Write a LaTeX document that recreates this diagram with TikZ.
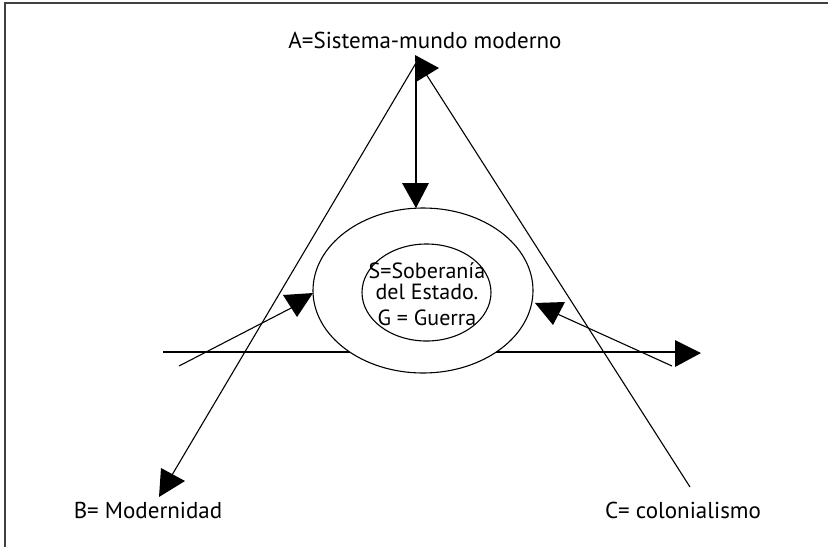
\documentclass[tikz,border=0pt]{standalone}
\usepackage{fontspec}
\setmainfont{PT Sans}
\usetikzlibrary{shapes.geometric, positioning}
\tikzset{node distance = 2cm}

\begin{document}
\begin{tikzpicture}[x=1pt, y=-1pt, line width=1.1pt,
  lbl/.style={font=\fontsize{23}{27}\selectfont, anchor=base, inner sep=0pt},
  head/.style={fill=black, draw=none},
  frame/.style={draw=black!75, line width=1.6pt}]
    \useasboundingbox (0,0) rectangle (828,547);
    \draw[frame] (5,547) -- (5,3) -- (828,3);

    % corners of the triangle
    \coordinate (apexL) at (416,63);
    \coordinate (apexR) at (419,63);
    \coordinate (tipB) at (172,475);
    \coordinate (endC) at (690,487);

    \node[lbl] (sistema) at (425,48) {A=Sistema-mundo moderno};
    \node[lbl] (modernidad) at (148,518) {B= Modernidad};
    \node[lbl] (colonialismo) at (683,518) {C= colonialismo};

    % horizontal axis behind the ellipse
    \coordinate (axisL) at (163,352);
    \coordinate (axisR) at (690,352);
    \draw (axisL) -- (axisR);
    \fill[head] (675,340) -- (701,353) -- (675,367) -- cycle;

    \draw (apexL) -- (tipB);
    \draw (apexR) -- (endC);
    \fill[head] (415,55) -- (439,68) -- (416,82) -- cycle;
    \fill[head] (161,468) -- (185,481) -- (159,497) -- cycle;

    \node[ellipse, draw, fill=white, minimum width=220, minimum height=165, inner sep=0pt] (estado) at (423,290.5) {};
    \node[ellipse, draw, minimum width=129, minimum height=97, inner sep=0pt] (soberania) at (426.5,292.5) {};
    \node[lbl, anchor=center, align=center, font=\fontsize{22}{21}\selectfont] (texto) at (427,294)
        {S=Soberanía\\del Estado.\\[5pt]G = Guerra};

    % arrows into the ellipse
    \draw (apexL) -- (apexL |- estado.north);
    \fill[head] (402,183) -- (429,183) -- (416,208) -- cycle;

    \coordinate (desdeB) at (179,366);
    \draw (desdeB) -- (297,305);
    \fill[head] (283,295) -- (313,293) -- (297,317) -- cycle;

    \coordinate (desdeC) at (672,366);
    \draw (desdeC) -- (553,312);
    \fill[head] (535,303) -- (565,302) -- (553,325) -- cycle;
\end{tikzpicture}
\end{document}
